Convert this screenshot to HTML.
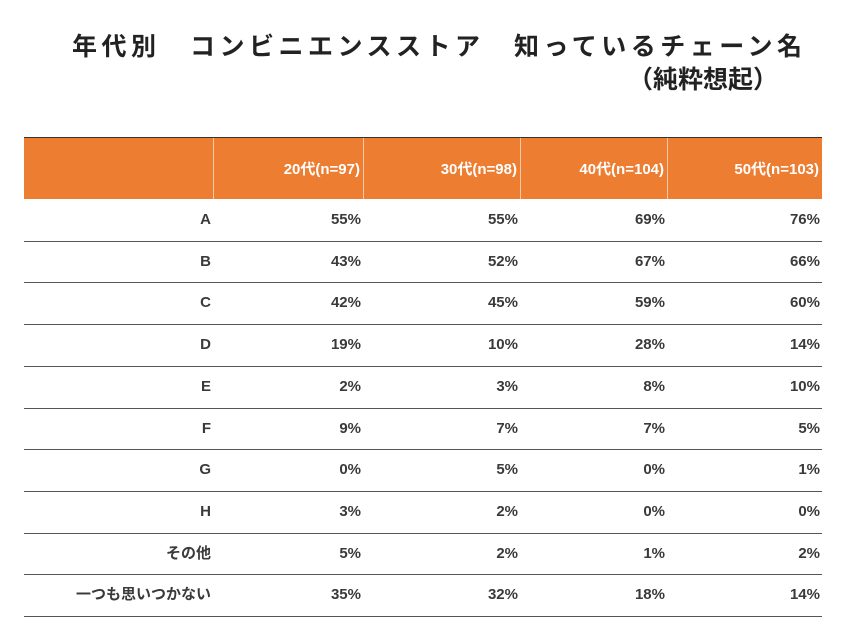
<!DOCTYPE html>
<html><head><meta charset="utf-8"><style>
body{margin:0;width:853px;height:640px;background:#fff;position:relative;font-family:"Liberation Sans","Noto Sans CJK JP",sans-serif;overflow:hidden}
.t{position:absolute;font-weight:bold;color:#222;white-space:nowrap}
.c{position:absolute;font-weight:bold;font-size:15px;color:#3a3a3a;text-align:right;line-height:20px}
.hl{position:absolute;left:24px;width:798px;height:1px;background:#555}
</style></head><body>
<div class="t" style="left:72px;top:31px;font-size:25px;letter-spacing:4.5px;line-height:32px">年代別　コンビニエンスストア　知っているチェーン名</div>
<div class="t" style="left:628px;top:64px;font-size:25px;line-height:32px">（純粋想起）</div>
<div id="tbl"></div>
<script>
const headers=["20代(n=97)","30代(n=98)","40代(n=104)","50代(n=103)"];
const rowLabels=["A","B","C","D","E","F","G","H","その他","一つも思いつかない"];
const v20=[55,43,42,19,2,9,0,3,5,35];
const v30=[55,52,45,10,3,7,5,2,2,32];
const v40=[69,67,59,28,8,7,0,0,1,18];
const v50=[76,66,60,14,10,5,1,0,2,14];
const cols=[v20,v30,v40,v50];
const tbl=document.getElementById('tbl');
const colRight=[213,363,520,667,822];
const top0=138,hh=61,rh=41.7;
function mk(style,cls){const d=document.createElement('div');if(cls)d.className=cls;d.style.cssText=style;tbl.appendChild(d);return d;}
let hd=mk(`position:absolute;left:24px;top:${top0}px;width:798px;height:${hh}px;background:#ED7D31`);


let tb=mk(`position:absolute;left:24px;top:${top0-1}px;width:798px;height:1px;background:#333`);


for(let i=0;i<4;i++){
  let s=mk(`position:absolute;left:${colRight[i]}px;top:${top0}px;width:1px;height:${hh}px;background:#f6c9a8`);
  
  
  let h=mk(`left:${colRight[i]}px;width:${colRight[i+1]-colRight[i]-3}px;top:${top0+22}px;color:#fff`,'c');
  h.textContent=headers[i];
  
  
}
for(let r=0;r<rowLabels.length;r++){
  const y=top0+hh+r*rh;
  let l=mk(`left:24px;width:${213-24-2}px;top:${y+11}px`,'c');
  l.textContent=rowLabels[r];
  
  
  for(let i=0;i<4;i++){
    let c=mk(`left:${colRight[i]}px;width:${colRight[i+1]-colRight[i]-2}px;top:${y+11}px`,'c');
    c.textContent=cols[i][r]+'%';
    
    
  }
  let b=mk(`top:${Math.round(y+rh)}px`,'hl');
  
  
}
</script>
</body></html>
